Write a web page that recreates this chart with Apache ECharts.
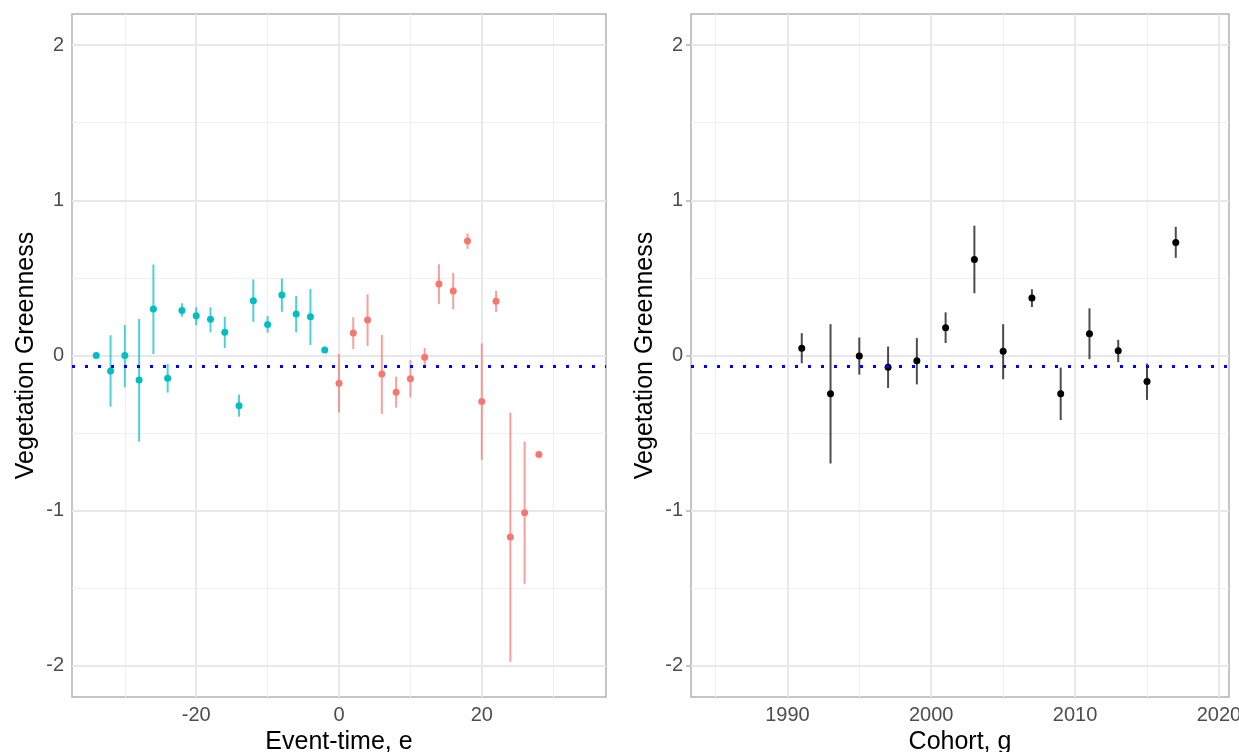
<!DOCTYPE html>
<html>
<head>
<meta charset="utf-8">
<script src="https://cdn.jsdelivr.net/npm/echarts@6/dist/echarts.min.js"></script>
<style>
html,body{margin:0;padding:0;background:#fff;}
#chart{width:1239px;height:752px;}
</style>
</head>
<body>
<div id="chart"></div>
<script>
// ---- Data ----
var eventTimePre = [-34,-32,-30,-28,-26,-24,-22,-20,-18,-16,-14,-12,-10,-8,-6,-4,-2];
var estPre  = [0.000,-0.100,0.000,-0.158,0.299,-0.147,0.290,0.256,0.233,0.149,-0.323,0.352,0.200,0.389,0.267,0.250,0.035];
var lowPre  = [0.000,-0.330,-0.205,-0.554,0.010,-0.239,0.250,0.196,0.149,0.048,-0.394,0.217,0.147,0.282,0.149,0.068,0.035];
var highPre = [0.000,0.130,0.196,0.235,0.586,-0.055,0.336,0.310,0.310,0.250,-0.252,0.490,0.254,0.496,0.383,0.428,0.035];

var eventTimePost = [0,2,4,6,8,10,12,14,16,18,20,22,24,26,28];
var estPost  = [-0.179,0.145,0.228,-0.119,-0.237,-0.149,-0.012,0.460,0.415,0.738,-0.297,0.350,-1.169,-1.013,-0.638];
var lowPost  = [-0.368,0.042,0.061,-0.376,-0.336,-0.271,-0.066,0.331,0.297,0.687,-0.672,0.280,-1.973,-1.471,-0.638];
var highPost = [0.010,0.246,0.394,0.132,-0.136,-0.029,0.048,0.588,0.532,0.786,0.078,0.417,-0.368,-0.554,-0.638];

var cohorts    = [1991,1993,1995,1997,1999,2001,2003,2005,2007,2009,2011,2013,2015,2017];
var estCohort  = [0.047,-0.246,-0.004,-0.075,-0.034,0.179,0.619,0.028,0.370,-0.246,0.140,0.030,-0.168,0.728];
var lowCohort  = [-0.050,-0.696,-0.123,-0.209,-0.186,0.080,0.401,-0.153,0.312,-0.416,-0.024,-0.043,-0.286,0.629];
var highCohort = [0.144,0.202,0.116,0.058,0.112,0.278,0.836,0.202,0.427,-0.078,0.304,0.101,-0.052,0.829];

var refLine = -0.07;

var yTicks = [-2,-1,0,1,2];
var yMinor = [-1.5,-0.5,0.5,1.5];
var xTicksEvent = [-20,0,20];
var xMinorEvent = [-30,-10,10,30];
var xTicksCohort = [1990,2000,2010,2020];
var xMinorCohort = [1985,1995,2005,2015];

// ---- Styling ----
var FONT = 'Liberation Sans, Arial, sans-serif';
var COL_PRE = '#00BFC4', COL_POST = '#F8766D';

function zip(a,b){ return a.map(function(v,i){ return [v,b[i]]; }); }
function zip3(a,b,c){ return a.map(function(v,i){ return [v,b[i],c[i]]; }); }

function gridLines(xMaj, xMin, yMaj, yMin){
  var d = [];
  xMin.forEach(function(v){ d.push({xAxis:v, lineStyle:{color:'#F0F0F0', width:1.2, type:'solid'}}); });
  yMin.forEach(function(v){ d.push({yAxis:v, lineStyle:{color:'#F0F0F0', width:1.2, type:'solid'}}); });
  xMaj.forEach(function(v){ d.push({xAxis:v, lineStyle:{color:'#E8E8E8', width:2, type:'solid'}}); });
  yMaj.forEach(function(v){ d.push({yAxis:v, lineStyle:{color:'#E8E8E8', width:2, type:'solid'}}); });
  return {silent:true, symbol:'none', z:1, animation:false, label:{show:false}, emphasis:{disabled:true}, data:d};
}
var hline = {silent:true, symbol:'none', z:10, animation:false, label:{show:false}, emphasis:{disabled:true},
  lineStyle:{color:'#0000FF', width:3, type:[3,10], cap:'butt'},
  data:[{yAxis:refLine}]};

function errSeries(xi, yi, data, color, marks){
  var s = {
    type:'custom', xAxisIndex:xi, yAxisIndex:yi, z:2, silent:true,
    data:data,
    renderItem:function(params, api){
      var p1 = api.coord([api.value(0), api.value(1)]);
      var p2 = api.coord([api.value(0), api.value(2)]);
      return {type:'line', shape:{x1:p1[0],y1:p1[1],x2:p2[0],y2:p2[1]},
              style:{stroke:color, lineWidth:2, opacity:0.7}};
    }
  };
  if (marks) s.markLine = marks;
  return s;
}
function ptSeries(xi, yi, data, color, marks){
  var s = {type:'scatter', xAxisIndex:xi, yAxisIndex:yi, z:3, silent:true,
    symbol:'circle', symbolSize:7, itemStyle:{color:color, opacity:1}, data:data};
  if (marks) s.markLine = marks;
  return s;
}
function plain(v){ return String(v); }

function yAxis(gi){
  return {type:'value', gridIndex:gi, min:-2.2, max:2.2,
    name:'Vegetation Greenness', nameLocation:'middle', nameGap:33, nameRotate:90,
    nameTextStyle:{fontFamily:FONT, fontSize:25, color:'#000'},
    axisLine:{show:false},
    axisTick:{show:true, length:5, customValues:yTicks, lineStyle:{color:'#B3B3B3', width:1.5}},
    axisLabel:{show:true, customValues:yTicks, formatter:plain, margin:8, fontFamily:FONT, fontSize:20, color:'#4D4D4D'},
    splitLine:{show:false}};
}
function xAxis(gi, mn, mx, ticks, name){
  return {type:'value', gridIndex:gi, min:mn, max:mx,
    name:name, nameLocation:'middle', nameGap:25,
    nameTextStyle:{fontFamily:FONT, fontSize:25, color:'#000'},
    axisLine:{show:false},
    axisTick:{show:true, length:5, customValues:ticks, lineStyle:{color:'#B3B3B3', width:1.5}},
    axisLabel:{show:true, customValues:ticks, formatter:plain, margin:8, fontFamily:FONT, fontSize:20, color:'#4D4D4D', hideOverlap:false},
    splitLine:{show:false}};
}

var chart = echarts.init(document.getElementById('chart'), null, {renderer:'canvas'});
chart.setOption({
  animation:false,
  backgroundColor:'#fff',
  grid:[
    {left:72, top:14, width:534, height:683, containLabel:false, outerBoundsMode:'none', show:true, borderColor:'#B3B3B3', borderWidth:1.5, backgroundColor:'#fff'},
    {left:691, top:14, width:538, height:683, containLabel:false, outerBoundsMode:'none', show:true, borderColor:'#B3B3B3', borderWidth:1.5, backgroundColor:'#fff'}
  ],
  xAxis:[
    xAxis(0, -37.4, 37.4, xTicksEvent, 'Event-time, e'),
    xAxis(1, 1983.3, 2020.7, xTicksCohort, 'Cohort, g')
  ],
  yAxis:[ yAxis(0), yAxis(1) ],
  series:[
    errSeries(0,0, zip3(eventTimePre, lowPre, highPre), COL_PRE, gridLines(xTicksEvent, xMinorEvent, yTicks, yMinor)),
    errSeries(0,0, zip3(eventTimePost, lowPost, highPost), COL_POST),
    ptSeries(0,0, zip(eventTimePre, estPre), COL_PRE, hline),
    ptSeries(0,0, zip(eventTimePost, estPost), COL_POST),
    errSeries(1,1, zip3(cohorts, lowCohort, highCohort), '#000', gridLines(xTicksCohort, xMinorCohort, yTicks, yMinor)),
    ptSeries(1,1, zip(cohorts, estCohort), '#000', hline)
  ]
});
</script>
</body>
</html>
